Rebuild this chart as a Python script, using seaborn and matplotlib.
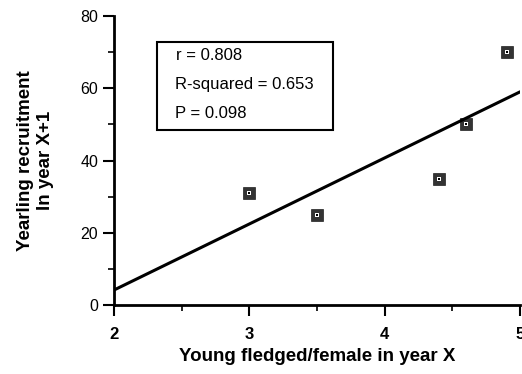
import matplotlib
matplotlib.use("Agg")
import matplotlib.pyplot as plt
import seaborn as sns
import pandas as pd
from matplotlib.ticker import MultipleLocator
from matplotlib.patches import Rectangle

young_fledged = [3.0, 3.5, 4.4, 4.6, 4.9]
yearling_recruitment = [31, 25, 35, 50, 70]
stats_lines = ["r = 0.808", "R-squared = 0.653", "P = 0.098"]
x_ticks = [2, 3, 4, 5]
y_ticks = [0, 20, 40, 60, 80]

df = pd.DataFrame({"x": young_fledged, "y": yearling_recruitment})

sns.set_style("ticks")
plt.rcParams["font.family"] = ["Liberation Sans", "DejaVu Sans"]
plt.rcParams.update({"text.color": "black", "axes.labelcolor": "black",
                     "xtick.color": "black", "ytick.color": "black",
                     "axes.edgecolor": "black"})

fig = plt.figure(figsize=(5.22, 3.74), dpi=100)
ax = fig.add_axes([0.2184, 0.1845, 0.778, 0.7725])
ax.set_xlim(2, 5)
ax.set_ylim(0, 80)

sns.regplot(data=df, x="x", y="y", ax=ax, ci=None, truncate=False,
            marker="s",
            scatter_kws=dict(s=64, color="black", edgecolors="black", linewidths=0.5, zorder=3),
            line_kws=dict(color="black", lw=2.2, zorder=2))
sns.scatterplot(data=df, x="x", y="y", ax=ax, marker="s", s=9, color="white",
                edgecolor="white", linewidth=0, zorder=4, legend=False)
sns.scatterplot(data=df, x="x", y="y", ax=ax, marker="s", s=1.5, color="black",
                edgecolor="black", linewidth=0, zorder=5, legend=False)

ax.set_xticks(x_ticks)
ax.set_yticks(y_ticks)
ax.xaxis.set_minor_locator(MultipleLocator(0.5))
ax.yaxis.set_minor_locator(MultipleLocator(10))
ax.tick_params(which="major", length=8, width=1.5, labelsize=11.5, direction="out")
ax.tick_params(which="minor", length=4, width=1.2, direction="out")
ax.tick_params(axis="x", pad=8, labelsize=12)
for lab in ax.get_xticklabels():
    lab.set_fontweight("bold")
sns.despine(ax=ax)
for s in ["left", "bottom"]:
    ax.spines[s].set_linewidth(2)
ax.set_xlabel("Young fledged/female in year X", fontsize=13.5, fontweight="bold", labelpad=4)
ax.set_ylabel("Yearling recruitment\nIn year X+1", fontsize=13.5, fontweight="bold",
              labelpad=19, linespacing=1.25)

# stats box
box = Rectangle((157 / 522, 1 - 130 / 374), (333 - 157) / 522, (130 - 42) / 374,
                transform=fig.transFigure, fill=False, edgecolor="black", lw=1.5)
fig.patches.append(box)
ys = [55, 85, 113]
xs = [176, 175, 175]
for t, yy, xx in zip(stats_lines, ys, xs):
    fig.text(xx / 522, 1 - yy / 374, t, fontsize=12, va="center", ha="left", color="black")

fig.savefig("out.png", dpi=100)
